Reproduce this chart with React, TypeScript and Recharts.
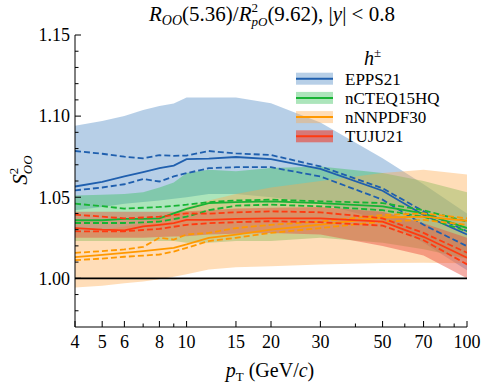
import { ComposedChart, Area, Line, XAxis, YAxis, ReferenceLine } from 'recharts'

const pT = [4, 5, 6, 7, 8, 9, 10, 12, 15, 20, 30, 50, 70, 100]

// EPPS21
const eppsMid = [1.0566, 1.0595, 1.0628, 1.0655, 1.068, 1.0695, 1.0735, 1.0738, 1.0748, 1.0735, 1.0675, 1.054, 1.039, 1.027]
const eppsUp = [1.0785, 1.0768, 1.075, 1.074, 1.0759, 1.0755, 1.0757, 1.0785, 1.077, 1.076, 1.069, 1.0555, 1.0413, 1.029]
const eppsDn = [1.0542, 1.056, 1.058, 1.0612, 1.0597, 1.0628, 1.0648, 1.0679, 1.0685, 1.0685, 1.0628, 1.0485, 1.033, 1.0198]
const eppsHi = [1.094, 1.097, 1.1, 1.1037, 1.1063, 1.1078, 1.1115, 1.1115, 1.1115, 1.108, 1.096, 1.074, 1.058, 1.04]
const eppsLo = [1.042, 1.044, 1.046, 1.047, 1.048, 1.049, 1.05, 1.052, 1.052, 1.05, 1.046, 1.036, 1.022, 1.005]

// nCTEQ15HQ
const ncteqMid = [1.0358, 1.0358, 1.0366, 1.0366, 1.037, 1.04, 1.0428, 1.0464, 1.047, 1.0475, 1.0464, 1.0444, 1.04, 1.031]
const ncteqUp = [1.046, 1.0445, 1.043, 1.0435, 1.044, 1.0447, 1.0454, 1.047, 1.048, 1.0485, 1.0475, 1.0464, 1.042, 1.035]
const ncteqDn = [1.0341, 1.0341, 1.0341, 1.0345, 1.035, 1.0365, 1.038, 1.042, 1.0448, 1.0454, 1.0444, 1.042, 1.038, 1.029]
const ncteqHi = [1.051, 1.0515, 1.052, 1.053, 1.056, 1.059, 1.065, 1.067, 1.066, 1.068, 1.069, 1.065, 1.06, 1.053]
const ncteqLo = [1.023, 1.023, 1.023, 1.023, 1.023, 1.023, 1.022, 1.022, 1.023, 1.023, 1.025, 1.022, 1.018, 1.012]

// nNNPDF30
const nnpdfMid = [1.0131, 1.0144, 1.0157, 1.0168, 1.0178, 1.0188, 1.0209, 1.025, 1.027, 1.03, 1.0331, 1.0375, 1.038, 1.0355]
const nnpdfUp = [1.0157, 1.0168, 1.0178, 1.0194, 1.025, 1.0239, 1.027, 1.028, 1.031, 1.033, 1.035, 1.039, 1.04, 1.037]
const nnpdfDn = [1.0112, 1.0122, 1.0133, 1.014, 1.0147, 1.0165, 1.0188, 1.023, 1.025, 1.028, 1.031, 1.035, 1.036, 1.033]
const nnpdfHi = [1.028, 1.03, 1.032, 1.034, 1.037, 1.04, 1.044, 1.048, 1.052, 1.056, 1.06, 1.065, 1.067, 1.064]
const nnpdfLo = [0.9943, 0.9955, 0.997, 0.998, 0.9995, 1.001, 1.0025, 1.0055, 1.0068, 1.0075, 1.0086, 1.0095, 1.0096, 1.0093]

// TUJU21
const tujuMid = [1.031, 1.03, 1.0296, 1.032, 1.033, 1.034, 1.036, 1.036, 1.0366, 1.037, 1.037, 1.035, 1.0256, 1.0127]
const tujuUp = [1.0393, 1.038, 1.037, 1.0375, 1.038, 1.039, 1.04, 1.0399, 1.0407, 1.0413, 1.0407, 1.037, 1.028, 1.0158]
const tujuDn = [1.029, 1.029, 1.029, 1.0298, 1.0305, 1.0318, 1.033, 1.034, 1.0346, 1.0352, 1.0346, 1.0325, 1.0235, 1.0086]
const tujuHi = [1.041, 1.041, 1.041, 1.041, 1.041, 1.041, 1.0413, 1.042, 1.043, 1.0435, 1.044, 1.041, 1.034, 1.025]
const tujuLo = [1.025, 1.025, 1.025, 1.025, 1.0255, 1.0258, 1.026, 1.027, 1.0275, 1.028, 1.027, 1.02, 1.014, 1.0]

const xTicks = [4, 5, 6, 7, 8, 9, 10, 15, 20, 30, 40, 50, 60, 70, 80, 90, 100]
const xLabels = [4, 5, 6, 8, 10, 15, 20, 30, 50, 70, 100]
const yTicks = [0.98, 0.99, 1.0, 1.01, 1.02, 1.03, 1.04, 1.05, 1.06, 1.07, 1.08, 1.09, 1.1, 1.11, 1.12, 1.13, 1.14, 1.15]
const yLabels = [1.0, 1.05, 1.1, 1.15]

const FONT = '"Times New Roman", Tinos, "Liberation Serif", "Noto Serif", "DejaVu Serif", FreeSerif, Times, serif'
const textStyle = { fontFamily: FONT }

const series = [
  { key: 'epps', name: 'EPPS21', line: '#1f5fae', fill: '#4a88c4', op: 0.4, mid: eppsMid, up: eppsUp, dn: eppsDn, hi: eppsHi, lo: eppsLo },
  { key: 'ncteq', name: 'nCTEQ15HQ', line: '#17b434', fill: '#2fbf55', op: 0.4, mid: ncteqMid, up: ncteqUp, dn: ncteqDn, hi: ncteqHi, lo: ncteqLo },
  { key: 'nnpdf', name: 'nNNPDF30', line: '#ff9800', fill: '#ffa94d', op: 0.4, mid: nnpdfMid, up: nnpdfUp, dn: nnpdfDn, hi: nnpdfHi, lo: nnpdfLo },
  { key: 'tuju', name: 'TUJU21', line: '#ff3a10', fill: '#e84a3a', op: 0.45, mid: tujuMid, up: tujuUp, dn: tujuDn, hi: tujuHi, lo: tujuLo },
]

const data = pT.map((x, i) => {
  const row: Record<string, number | number[]> = { x }
  series.forEach((s) => {
    row[s.key + 'Band'] = [s.lo[i], s.hi[i]]
    row[s.key + 'Mid'] = s.mid[i]
    row[s.key + 'Up'] = s.up[i]
    row[s.key + 'Dn'] = s.dn[i]
  })
  return row
})

const isXLabel = (v: number) => xLabels.includes(v)
const isYLabel = (v: number) => yLabels.some((l) => Math.abs(l - v) < 1e-6)

function BottomTick(props: any) {
  const { x, y, payload } = props
  const major = isXLabel(payload.value)
  return (
    <g>
      <line x1={x} x2={x} y1={y} y2={y - (major ? 6 : 3.5)} stroke="#000" strokeWidth={1} />
      {major && (
        <text x={x} y={y + 21} textAnchor="middle" fontSize={18} style={textStyle} fill="#000">
          {payload.value}
        </text>
      )}
    </g>
  )
}

function TopTick(props: any) {
  const { x, y, payload } = props
  const major = isXLabel(payload.value)
  return <line x1={x} x2={x} y1={y} y2={y + (major ? 6 : 3.5)} stroke="#000" strokeWidth={1} />
}

function LeftTick(props: any) {
  const { x, y, payload } = props
  const major = isYLabel(payload.value)
  return (
    <g>
      <line x1={x} x2={x + (major ? 6 : 3.5)} y1={y} y2={y} stroke="#000" strokeWidth={1} />
      {major && (
        <text x={x - 5} y={y} dy="0.35em" textAnchor="end" fontSize={18} style={textStyle} fill="#000">
          {payload.value.toFixed(2)}
        </text>
      )}
    </g>
  )
}

function RightTick(props: any) {
  const { x, y, payload } = props
  const major = isYLabel(payload.value)
  return <line x1={x} x2={x - (major ? 6 : 3.5)} y1={y} y2={y} stroke="#000" strokeWidth={1} />
}

function Overlay() {
  return (
    <svg
      width={488}
      height={384}
      style={{ position: 'absolute', left: 0, top: 0, pointerEvents: 'none', fontFamily: FONT }}
    >
      <text x={272} y={21} textAnchor="middle" fontSize={21} fill="#000" style={textStyle}>
        <tspan fontStyle="italic">R</tspan>
        <tspan fontSize={14} fontStyle="italic" dy={4}>OO</tspan>
        <tspan dy={-4}>(5.36)/</tspan>
        <tspan fontStyle="italic">R</tspan>
        <tspan fontSize={13} dy={-9}>2</tspan>
        <tspan fontSize={13} fontStyle="italic" dx={-6.5} dy={14}>pO</tspan>
        <tspan dy={-5}>(9.62), |</tspan>
        <tspan fontStyle="italic">y</tspan>
        <tspan>| &lt; 0.8</tspan>
      </text>
      <text transform="translate(27,170) rotate(-90)" textAnchor="middle" fontSize={21} fill="#000" style={textStyle}>
        <tspan fontStyle="italic">S</tspan>
        <tspan fontSize={13} dy={-9}>2</tspan>
        <tspan fontSize={13} fontStyle="italic" dx={-6.5} dy={14}>OO</tspan>
      </text>
      <text x={270} y={377} textAnchor="middle" fontSize={20} fill="#000" style={textStyle}>
        <tspan fontStyle="italic">p</tspan>
        <tspan fontSize={13} dy={4}>T</tspan>
        <tspan dy={-4}> (GeV/</tspan>
        <tspan fontStyle="italic">c</tspan>
        <tspan>)</tspan>
      </text>
      <text x={364} y={65} fontSize={20} fill="#000" style={textStyle}>
        <tspan fontStyle="italic">h</tspan>
        <tspan fontSize={13} dy={-8}>±</tspan>
      </text>
      {series.map((s, i) => {
        const cy = 78.7 + i * 19.2
        return (
          <g key={s.key}>
            <rect x={296} y={cy - 6} width={37} height={12} fill={s.fill} fillOpacity={s.key === 'tuju' ? 0.65 : s.op} />
            <line x1={296} x2={333} y1={cy} y2={cy} stroke={s.line} strokeWidth={2} />
            <text x={345} y={cy + 6} fontSize={17} fill="#000" style={textStyle}>
              {s.name}
            </text>
          </g>
        )
      })}
    </svg>
  )
}

export default function App() {
  return (
    <div style={{ position: 'absolute', left: 0, top: 0, width: 488, height: 384, background: '#fff' }}>
      <ComposedChart width={488} height={384} data={data} margin={{ top: 35, right: 21, left: 0, bottom: 0 }}>
        <XAxis
          dataKey="x"
          type="number"
          scale="log"
          domain={[4, 100]}
          allowDataOverflow
          ticks={xTicks}
          interval={0}
          height={57}
          tickSize={0}
          tickMargin={0}
          tickLine={false}
          axisLine={{ stroke: '#000', strokeWidth: 1 }}
          tick={<BottomTick />}
        />
        <XAxis
          xAxisId="top"
          orientation="top"
          dataKey="x"
          type="number"
          scale="log"
          domain={[4, 100]}
          allowDataOverflow
          ticks={xTicks}
          interval={0}
          height={0}
          tickSize={0}
          tickMargin={0}
          tickLine={false}
          axisLine={{ stroke: '#000', strokeWidth: 1 }}
          tick={<TopTick />}
        />
        <YAxis
          type="number"
          domain={[0.97, 1.15]}
          allowDataOverflow
          ticks={yTicks}
          interval={0}
          width={75}
          tickSize={0}
          tickMargin={0}
          tickLine={false}
          axisLine={{ stroke: '#000', strokeWidth: 1 }}
          tick={<LeftTick />}
        />
        <YAxis
          yAxisId="right"
          orientation="right"
          type="number"
          domain={[0.97, 1.15]}
          allowDataOverflow
          ticks={yTicks}
          interval={0}
          width={0}
          tickSize={0}
          tickMargin={0}
          tickLine={false}
          axisLine={{ stroke: '#000', strokeWidth: 1 }}
          tick={<RightTick />}
        />
        {series.map((s) => (
          <Area
            key={s.key + 'Band'}
            type="linear"
            dataKey={s.key + 'Band'}
            stroke="none"
            fill={s.fill}
            fillOpacity={s.op}
            isAnimationActive={false}
            activeDot={false}
            dot={false}
          />
        ))}
        <ReferenceLine y={1} stroke="#000" strokeWidth={1.8} />
        {series.flatMap((s) => [
          <Line key={s.key + 'Up'} type="linear" dataKey={s.key + 'Up'} stroke={s.line} strokeWidth={1.8} strokeDasharray="6 3" dot={false} activeDot={false} isAnimationActive={false} />,
          <Line key={s.key + 'Dn'} type="linear" dataKey={s.key + 'Dn'} stroke={s.line} strokeWidth={1.8} strokeDasharray="6 3" dot={false} activeDot={false} isAnimationActive={false} />,
          <Line key={s.key + 'Mid'} type="linear" dataKey={s.key + 'Mid'} stroke={s.line} strokeWidth={1.8} dot={false} activeDot={false} isAnimationActive={false} />,
        ])}
      </ComposedChart>
      <Overlay />
    </div>
  )
}
